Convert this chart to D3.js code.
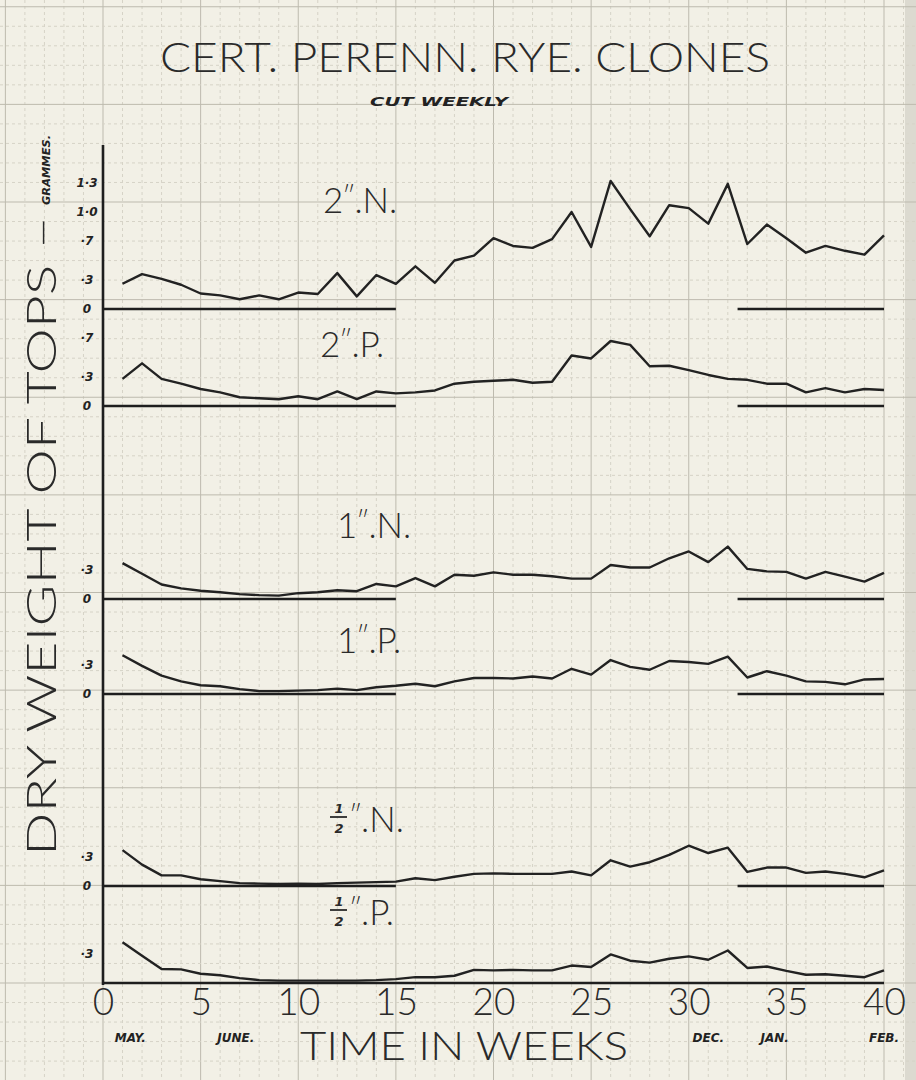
<!DOCTYPE html>
<html>
<head>
<meta charset="utf-8">
<script src="https://d3js.org/d3.v7.min.js"></script>
<style>
body { margin: 0; background: #f2f0e6; }
</style>
</head>
<body>
<script>
// weeks 1..40, dry weight of tops (grammes)
var weeks = d3.range(1, 41);
var xTicks = [0, 5, 10, 15, 20, 25, 30, 35, 40];
var months = ["MAY.", "JUNE.", "DEC.", "JAN.", "FEB."];
var monthWeeks = [1.4, 6.8, 31.0, 34.4, 40.0];

var n2 = [0.26,0.36,0.31,0.25,0.16,0.14,0.10,0.14,0.10,0.17,0.155,0.37,0.13,0.35,0.26,0.44,0.27,0.50,0.55,0.73,
          0.65,0.63,0.72,1.00,0.64,1.32,1.03,0.75,1.07,1.04,0.88,1.29,0.67,0.87,0.73,0.58,0.65,0.60,0.56,0.76];
var p2 = [0.28,0.44,0.28,0.23,0.175,0.14,0.09,0.08,0.07,0.10,0.07,0.15,0.07,0.15,0.13,0.14,0.16,0.23,0.25,0.26,
          0.27,0.24,0.25,0.52,0.49,0.67,0.63,0.41,0.415,0.37,0.32,0.28,0.27,0.23,0.23,0.14,0.185,0.14,0.175,0.165];
var n1 = [0.37,0.26,0.15,0.11,0.085,0.07,0.05,0.04,0.035,0.06,0.07,0.09,0.08,0.155,0.13,0.215,0.13,0.25,0.24,0.275,
          0.25,0.25,0.235,0.21,0.21,0.35,0.325,0.325,0.42,0.49,0.38,0.54,0.31,0.285,0.28,0.21,0.28,0.23,0.18,0.27];
var p1 = [0.40,0.29,0.19,0.13,0.09,0.08,0.05,0.03,0.03,0.035,0.04,0.055,0.04,0.07,0.085,0.105,0.08,0.13,0.165,0.165,
          0.16,0.18,0.16,0.26,0.20,0.35,0.28,0.25,0.34,0.33,0.31,0.385,0.17,0.235,0.19,0.13,0.125,0.10,0.15,0.155];
var nh = [0.37,0.22,0.11,0.11,0.07,0.05,0.03,0.025,0.02,0.025,0.02,0.03,0.035,0.04,0.045,0.08,0.06,0.095,0.125,0.13,
          0.125,0.125,0.125,0.15,0.11,0.265,0.20,0.245,0.32,0.415,0.34,0.395,0.145,0.19,0.19,0.135,0.15,0.125,0.09,0.16];
var ph = [0.42,0.28,0.145,0.14,0.095,0.08,0.05,0.03,0.025,0.025,0.025,0.025,0.025,0.03,0.04,0.06,0.06,0.075,0.135,0.13,
          0.135,0.13,0.13,0.18,0.165,0.295,0.23,0.21,0.25,0.275,0.24,0.335,0.155,0.17,0.125,0.085,0.09,0.075,0.06,0.13];

var seriesNames = ["2", "2", "1", "1", "½", "½"];
var seriesKinds = ["N.", "P.", "N.", "P.", "N.", "P."];
var seriesValues = [n2, p2, n1, p1, nh, ph];
var seriesTicks = [[0, 0.3, 0.7, 1.0, 1.3], [0, 0.3, 0.7], [0, 0.3], [0, 0.3], [0, 0.3], [0.3]];

// layout of the six strips on the sheet
var baseY = [309, 406, 599, 694, 886, 983];
var labelPos = [[323, 213], [320, 357], [337, 538], [337, 653], [330, 832], [330, 925]];
var unitPx = 97;

var width = 916, height = 1080;
var letter = "Lato, 'Open Sans', sans-serif";
var hand = "'DejaVu Sans', sans-serif";

var svg = d3.select("body").append("svg")
	.attr("width", width)
	.attr("height", height);

svg.append("rect").attr("width", width).attr("height", height).attr("fill", "#f2f0e6");
svg.append("rect").attr("x", 905).attr("width", 11).attr("height", height).attr("fill", "#dcdad0");

var x = d3.scaleLinear().domain([0, 40]).range([103, 884]);
var step = x(1) - x(0);

// graph paper
var grid = svg.append("g");
d3.range(-6, 43).forEach(function(i) {
	var xx = x(i);
	grid.append("line")
		.attr("x1", xx).attr("x2", xx).attr("y1", 0).attr("y2", height)
		.attr("stroke", i % 5 == 0 ? "#bdbaae" : "#d6d3c7")
		.attr("stroke-width", 1)
		.attr("stroke-dasharray", i % 5 == 0 ? null : "3,3");
});
d3.range(-6, 52).forEach(function(k) {
	var yy = 983 - k * step;
	grid.append("line")
		.attr("x1", 0).attr("x2", width).attr("y1", yy).attr("y2", yy)
		.attr("stroke", k % 5 == 0 ? "#bdbaae" : "#d6d3c7")
		.attr("stroke-width", 1)
		.attr("stroke-dasharray", k % 5 == 0 ? null : "3,3");
});

function fmt(d) {
	if (d === 0) return "0";
	if (d < 1) return "·" + Math.round(d * 10);
	return d.toFixed(1).replace(".", "·");
}

function inchMark(t, kind) {
	t.append("tspan").attr("font-size", 26).attr("dx", -1).attr("dy", -8).text("″");
	t.append("tspan").attr("dy", 8).attr("dx", -1).text("." + kind);
}

seriesValues.forEach(function(vals, s) {
	var b = baseY[s];
	var y = d3.scaleLinear().domain([0, 1]).range([b, b - unitPx]);

	// zero line, broken between week 15 and 32.5 except on the bottom strip
	var segs = s == 5 ? [[0, 40]] : [[0, 15], [32.5, 40]];
	segs.forEach(function(sg) {
		svg.append("line")
			.attr("x1", x(sg[0])).attr("x2", x(sg[1]))
			.attr("y1", y(0)).attr("y2", y(0))
			.attr("stroke", "#1e1e1e").attr("stroke-width", 2.6);
	});

	var line = d3.line()
		.x(function(d, i) { return x(weeks[i]); })
		.y(function(d) { return y(d); });
	svg.append("path")
		.datum(vals)
		.attr("d", line)
		.attr("fill", "none")
		.attr("stroke", "#222")
		.attr("stroke-width", 2.4)
		.attr("stroke-linejoin", "round");

	var ax = svg.append("g")
		.attr("transform", "translate(" + x(0) + ",0)")
		.call(d3.axisLeft(y).tickValues(seriesTicks[s]).tickFormat(fmt).tickSize(0));
	ax.select(".domain").remove();
	ax.selectAll("text")
		.attr("x", -16)
		.attr("text-anchor", "middle")
		.attr("font-family", hand)
		.attr("font-size", 12)
		.attr("font-weight", "bold")
		.attr("font-style", "italic")
		.attr("fill", "#222");

	// strip label
	var lx = labelPos[s][0], ly = labelPos[s][1];
	var g = svg.append("g").attr("fill", "#2a2a2a");
	var t;
	if (seriesNames[s] == "½") {
		g.append("text").attr("x", lx + 9).attr("y", ly - 19)
			.attr("text-anchor", "middle").attr("font-family", hand)
			.attr("font-size", 13).attr("font-weight", "bold").attr("font-style", "italic").text("1");
		g.append("line").attr("x1", lx).attr("x2", lx + 17).attr("y1", ly - 15).attr("y2", ly - 15)
			.attr("stroke", "#2a2a2a").attr("stroke-width", 1.8);
		g.append("text").attr("x", lx + 9).attr("y", ly + 1)
			.attr("text-anchor", "middle").attr("font-family", hand)
			.attr("font-size", 13).attr("font-weight", "bold").attr("font-style", "italic").text("2");
		t = g.append("text").attr("x", lx + 20).attr("y", ly)
			.attr("font-family", letter).attr("font-weight", 300).attr("font-size", 35);
	} else {
		t = g.append("text").attr("x", lx).attr("y", ly)
			.attr("font-family", letter).attr("font-weight", 300).attr("font-size", 35);
		t.append("tspan").text(seriesNames[s]);
	}
	inchMark(t, seriesKinds[s]);
});

// vertical axis
svg.append("line")
	.attr("x1", x(0)).attr("x2", x(0)).attr("y1", 145).attr("y2", 985)
	.attr("stroke", "#1e1e1e").attr("stroke-width", 2.6);

// week axis
var xa = svg.append("g")
	.attr("transform", "translate(0,983)")
	.call(d3.axisBottom(x).tickValues(xTicks).tickSize(0).tickPadding(6));
xa.select(".domain").remove();
xa.selectAll("text")
	.attr("font-family", letter)
	.attr("font-weight", 300)
	.attr("font-size", 37)
	.attr("fill", "#2a2a2a");

months.forEach(function(m, i) {
	svg.append("text")
		.attr("x", x(monthWeeks[i]))
		.attr("y", 1042)
		.attr("text-anchor", "middle")
		.attr("font-family", hand)
		.attr("font-size", 12)
		.attr("font-weight", "bold")
		.attr("font-style", "italic")
		.attr("fill", "#222")
		.text(m);
});

svg.append("text")
	.attr("x", 300).attr("y", 1060)
	.attr("textLength", 328).attr("lengthAdjust", "spacingAndGlyphs")
	.attr("font-family", letter).attr("font-weight", 300).attr("font-size", 40)
	.attr("fill", "#2a2a2a")
	.text("TIME IN WEEKS");

// titles
svg.append("text")
	.attr("x", 160).attr("y", 72)
	.attr("textLength", 610).attr("lengthAdjust", "spacingAndGlyphs")
	.attr("font-family", letter).attr("font-weight", 300).attr("font-size", 42)
	.attr("fill", "#2a2a2a")
	.text("CERT. PERENN. RYE. CLONES");

svg.append("text")
	.attr("x", 370).attr("y", 106)
	.attr("textLength", 138).attr("lengthAdjust", "spacingAndGlyphs")
	.attr("font-family", hand).attr("font-size", 12)
	.attr("font-weight", "bold").attr("font-style", "italic")
	.attr("fill", "#222")
	.text("CUT WEEKLY");

svg.append("text")
	.attr("transform", "translate(56,856) rotate(-90)")
	.attr("textLength", 640).attr("lengthAdjust", "spacingAndGlyphs")
	.attr("font-family", letter).attr("font-weight", 300).attr("font-size", 42)
	.attr("fill", "#2a2a2a")
	.text("DRY WEIGHT OF TOPS –");

svg.append("text")
	.attr("transform", "translate(50,205) rotate(-90)")
	.attr("textLength", 70).attr("lengthAdjust", "spacingAndGlyphs")
	.attr("font-family", hand).attr("font-size", 11)
	.attr("font-weight", "bold").attr("font-style", "italic")
	.attr("fill", "#222")
	.text("GRAMMES.");
</script>
</body>
</html>
